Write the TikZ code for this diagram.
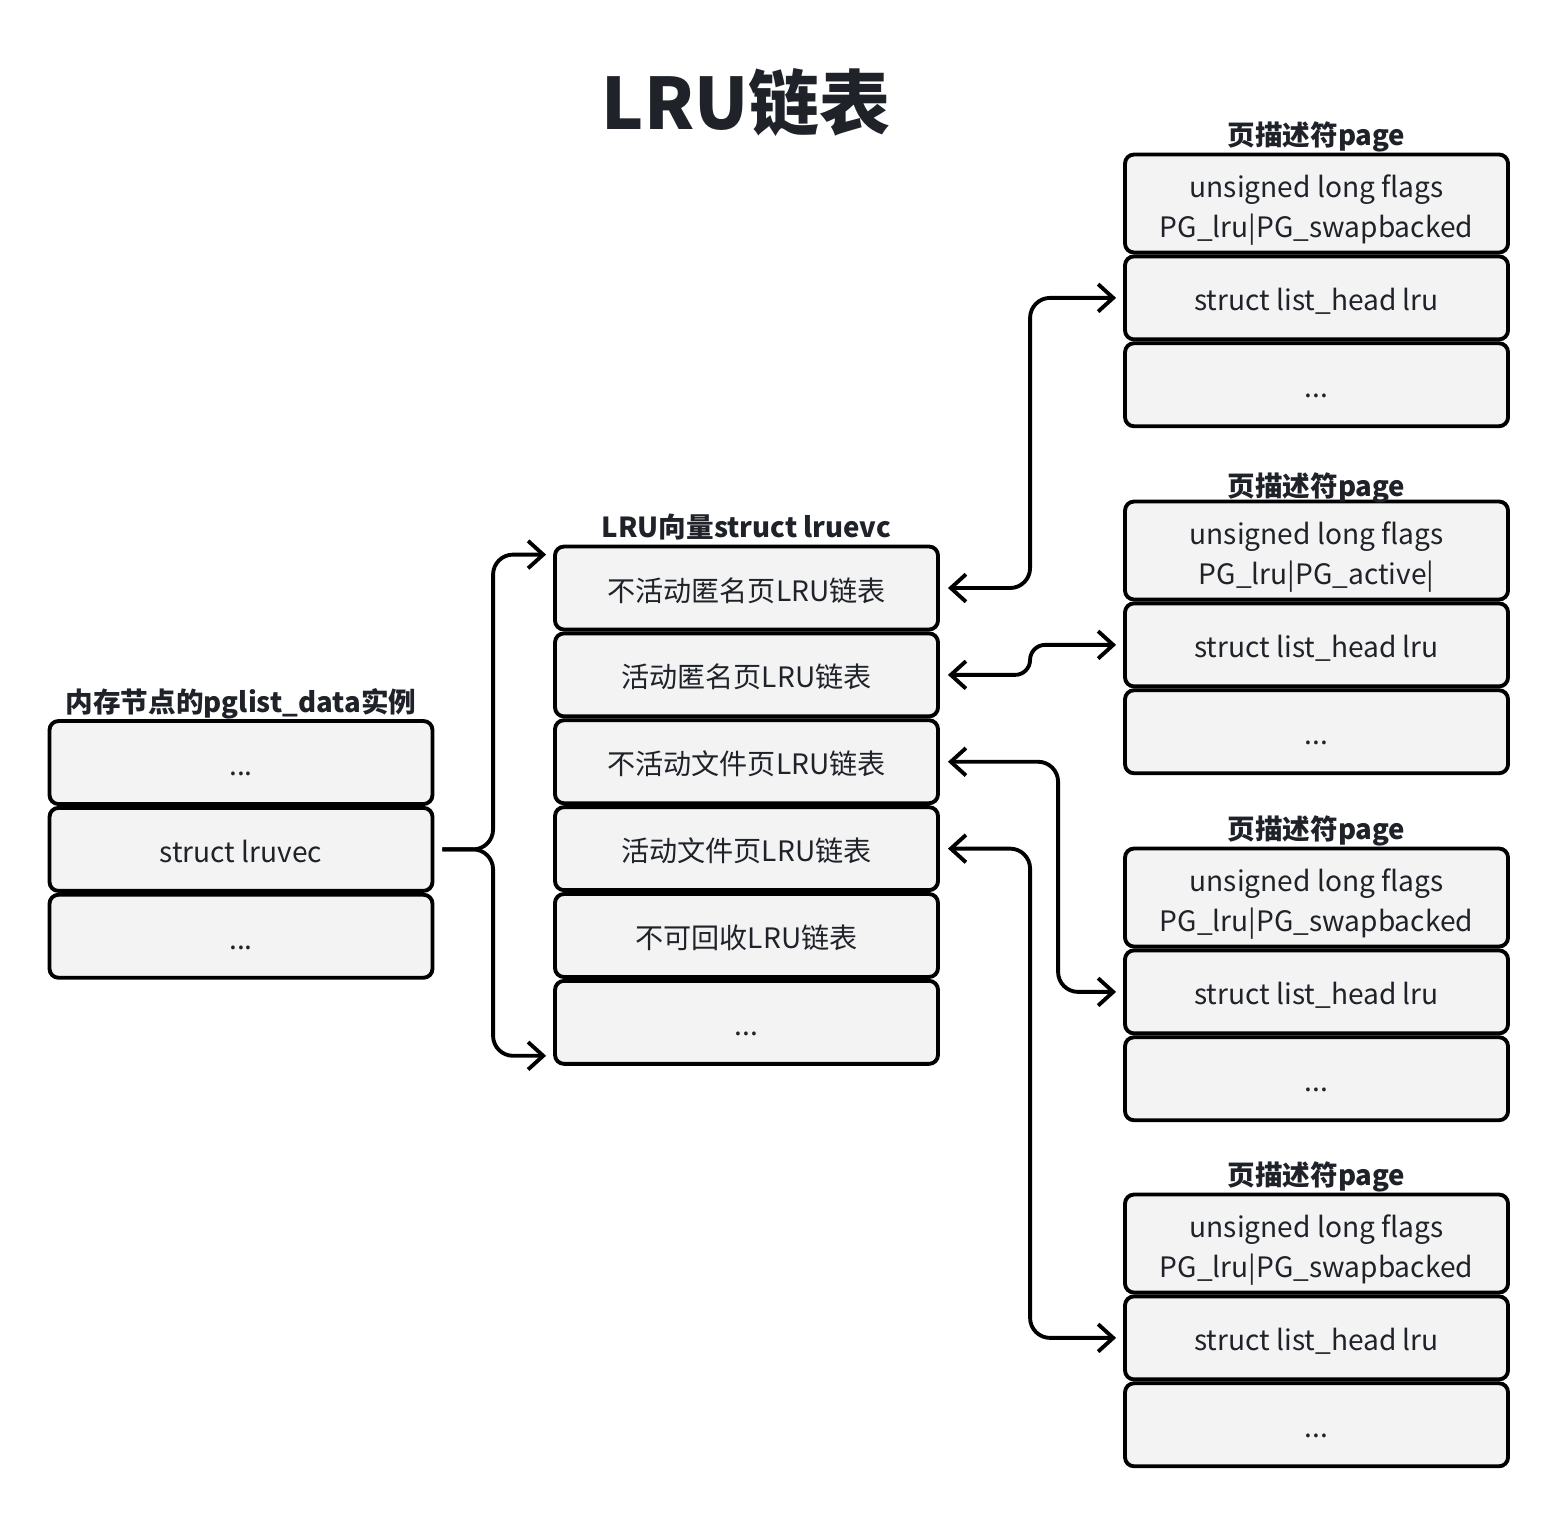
\documentclass[tikz,border=0pt]{standalone}
\usepackage{fontspec}
\setmainfont{Noto Sans CJK SC}
\usepackage{xcolor}
\usetikzlibrary{calc, positioning, arrows.meta}

\definecolor{ink}{HTML}{1F2329}
\definecolor{cellgray}{HTML}{F3F3F3}

\tikzset{
	cell/.style={draw=black, fill=cellgray, line width=1.1pt, rounded corners=0.09cm,
		minimum width=3.83cm, minimum height=0.83cm, inner sep=0pt,
		text height=0.29cm, text depth=0.03cm,
		text=ink, font=\fontsize{8pt}{11.4pt}\selectfont},
	tallcell/.style={cell, minimum height=0.98cm, align=center,
		text height=0.68cm, text depth=0cm},
	head/.style={inner sep=0pt, text depth=0pt, text=ink, font=\fontsize{7.85pt}{10pt}\selectfont\bfseries},
	>={Straight Barb[length=4.3pt, width=7.8pt]},
	link/.style={line width=1.1pt, rounded corners=0.2cm, <->},
	feed/.style={line width=1.1pt, rounded corners=0.2cm, ->},
}

\begin{document}
\begin{tikzpicture}
		\useasboundingbox (0, 0) rectangle (15.6, -15.2);

		% title
		\node (title) [text=ink, font=\fontsize{20.2pt}{24pt}\selectfont\bfseries] at (7.46, -1.03) {LRU链表};

		% pglist_data
		\node (node1) [cell] at (2.41, -7.625) {...};
		\node (lruvec) [cell, below=0cm of node1] {struct lruvec};
		\node (node3) [cell, below=0cm of lruvec] {...};
		\node (nodehead) [head, above=0.06cm of node1] {内存节点的pglist\_data实例};

		% lruvec
		\node (lru1) [cell] at (7.465, -5.88) {不活动匿名页LRU链表};
		\node (lru2) [cell, below=0cm of lru1] {活动匿名页LRU链表};
		\node (lru3) [cell, below=0cm of lru2] {不活动文件页LRU链表};
		\node (lru4) [cell, below=0cm of lru3] {活动文件页LRU链表};
		\node (lru5) [cell, below=0cm of lru4] {不可回收LRU链表};
		\node (lru6) [cell, below=0cm of lru5] {...};
		\node (lruhead) [head, above=0.06cm of lru1] {LRU向量struct lruevc};

		% page descriptors
		\node (pg1flags) [tallcell] at (13.165, -2.035) {unsigned long flags\\PG\_lru|PG\_swapbacked};
		\node (pg1lru) [cell, below=0cm of pg1flags] {struct list\_head lru};
		\node (pg1rest) [cell, below=0cm of pg1lru] {...};
		\node (pg1head) [head, above=0.06cm of pg1flags] {页描述符page};

		\node (pg2flags) [tallcell] at (13.165, -5.505) {unsigned long flags\\PG\_lru|PG\_active|};
		\node (pg2lru) [cell, below=0cm of pg2flags] {struct list\_head lru};
		\node (pg2rest) [cell, below=0cm of pg2lru] {...};
		\node (pg2head) [head, above=0.02cm of pg2flags] {页描述符page};

		\node (pg3flags) [tallcell] at (13.165, -8.975) {unsigned long flags\\PG\_lru|PG\_swapbacked};
		\node (pg3lru) [cell, below=0cm of pg3flags] {struct list\_head lru};
		\node (pg3rest) [cell, below=0cm of pg3lru] {...};
		\node (pg3head) [head, above=0.06cm of pg3flags] {页描述符page};

		\node (pg4flags) [tallcell] at (13.165, -12.435) {unsigned long flags\\PG\_lru|PG\_swapbacked};
		\node (pg4lru) [cell, below=0cm of pg4flags] {struct list\_head lru};
		\node (pg4rest) [cell, below=0cm of pg4lru] {...};
		\node (pg4head) [head, above=0.06cm of pg4flags] {页描述符page};

		% lruvec to its lists
		\draw[feed] ($(lruvec.east)+(0.08, 0)$) -| ($(lru1.north west)+(-0.6, -0.1)$) -- ($(lru1.north west)+(-0.07, -0.1)$);
		\draw[feed] ($(lruvec.east)+(0.08, 0)$) -| ($(lru6.south west)+(-0.6, 0.1)$) -- ($(lru6.south west)+(-0.07, 0.1)$);

		% lists to pages
		\draw[link] ($(lru1.east)+(0.08, 0)$) -| ($(pg1lru.west)+(-0.93, 0)$) -- ($(pg1lru.west)+(-0.07, 0)$);
		\draw[link, rounded corners=0.15cm] ($(lru2.east)+(0.08, 0)$) -| ($(pg2lru.west)+(-0.93, 0)$) -- ($(pg2lru.west)+(-0.07, 0)$);
		\draw[link] ($(lru3.east)+(0.08, 0)$) -| ($(pg3lru.west)+(-0.65, 0)$) -- ($(pg3lru.west)+(-0.07, 0)$);
		\draw[link] ($(lru4.east)+(0.08, 0)$) -| ($(pg4lru.west)+(-0.93, 0)$) -- ($(pg4lru.west)+(-0.07, 0)$);
	\end{tikzpicture}
\end{document}
